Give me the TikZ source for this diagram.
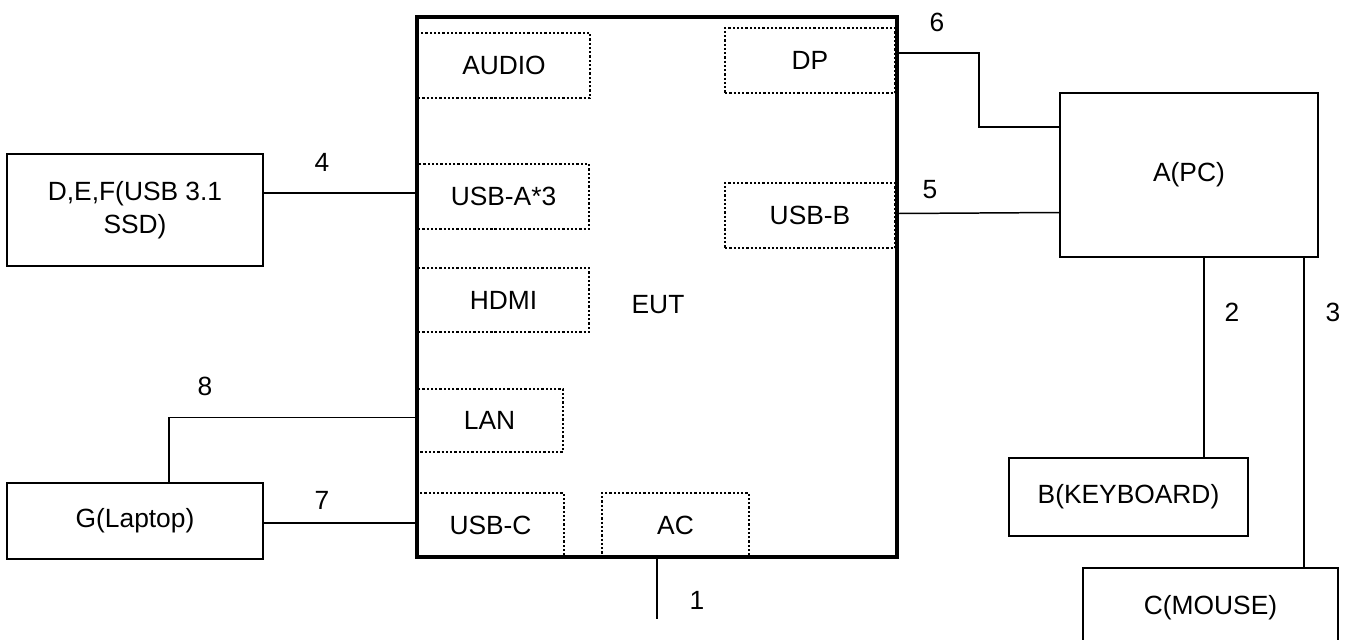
\documentclass[tikz,border=0pt]{standalone}
\usepackage{fontspec}
\setmainfont{Liberation Sans}
\usetikzlibrary{positioning, calc}

\begin{document}
\begin{tikzpicture}[
    x=0.02cm, y=-0.02cm,
    font=\fontsize{15}{19}\selectfont,
    dev/.style={rectangle, draw, line width=1.3pt, inner sep=0pt, align=center},
    port/.style={rectangle, draw, line width=1.4pt, inner sep=0pt,
        dash pattern=on 0.045cm off 0.04cm},
    eutbox/.style={rectangle, draw, line width=1.9pt, inner sep=0pt},
    wire/.style={line width=0.85pt},
    num/.style={inner sep=0pt}
]
    \clip (0,0) rectangle (1352,639);

    % EUT and its ports
    \node[eutbox, minimum width=9.6cm, minimum height=10.8cm] (eut) at (657,287) {};
    \node at (658,305) {EUT};
    \node[port, minimum width=3.44cm, minimum height=1.3cm] (audio) at (504,65.5) {AUDIO};
    \node[port, minimum width=3.4cm, minimum height=1.3cm] (dp) at (810,60.5) {DP};
    \node[port, minimum width=3.42cm, minimum height=1.3cm] (usba) at (503.5,196.5) {USB-A*3};
    \node[port, minimum width=3.4cm, minimum height=1.3cm] (usbb) at (810,215.5) {USB-B};
    \node[port, minimum width=3.42cm, minimum height=1.28cm] (hdmi) at (503.5,300) {HDMI};
    \node[port, minimum width=2.94cm, minimum height=1.26cm] (lan) at (489.5,420.5) {LAN};
    \node[port, minimum width=2.94cm, minimum height=1.28cm] (usbc) at (490.5,525) {USB-C};
    \node[port, minimum width=2.94cm, minimum height=1.28cm] (ac) at (675.5,525) {AC};

    % peripherals
    \node[dev, minimum width=5.12cm, minimum height=2.24cm] (ssd) at (135,210) {D,E,F(USB 3.1\\SSD)};
    \node[dev, minimum width=5.12cm, minimum height=1.52cm] (laptop) at (135,521) {G(Laptop)};
    \node[dev, minimum width=5.16cm, minimum height=3.28cm] (pc) at (1189,175) {A(PC)};
    \node[dev, minimum width=4.78cm, minimum height=1.56cm] (kbd) at (1128.5,497) {B(KEYBOARD)};
    \node[dev, minimum width=5.1cm, minimum height=1.6cm] (mouse) at (1210.5,608) {C(MOUSE)};

    \coordinate (dpbend) at (979,127);
    \coordinate (acend) at (657,619);

    % cables
    \draw[wire] ([yshift=0.07cm]usba.west) -- ([yshift=0.07cm]usba.west -| ssd.east);
    \draw[wire] ([yshift=-0.04cm]laptop.east) -- ([yshift=-0.04cm]laptop.east -| usbc.west);
    \draw[wire] ([yshift=0.06cm]lan.west) -| ([xshift=0.68cm]laptop.north);
    \draw[wire] (eut.south) -- (acend);
    \draw[wire] ([yshift=0.15cm]dp.east -| eut.east) -| (dpbend) -- (dpbend -| pc.west);
    \draw[wire] ([yshift=0.04cm]usbb.east -| eut.east) -- ([yshift=0.06cm]usbb.east -| pc.west);
    \draw[wire] ([xshift=0.3cm]pc.south) -- ([xshift=0.3cm]pc.south |- kbd.north);
    \draw[wire] ([xshift=2.3cm]pc.south) -- ([xshift=2.3cm]pc.south |- mouse.north);

    % cable numbers
    \node[num] (n1) at (697,600) {1};
    \node[num] (n2) at (1232,312) {2};
    \node[num] (n3) at (1333,312) {3};
    \node[num] (n4) at (322,162) {4};
    \node[num] (n5) at (930,190) {5};
    \node[num] (n6) at (937,22) {6};
    \node[num] (n7) at (322,500) {7};
    \node[num] (n8) at (205,386) {8};
\end{tikzpicture}
\end{document}
